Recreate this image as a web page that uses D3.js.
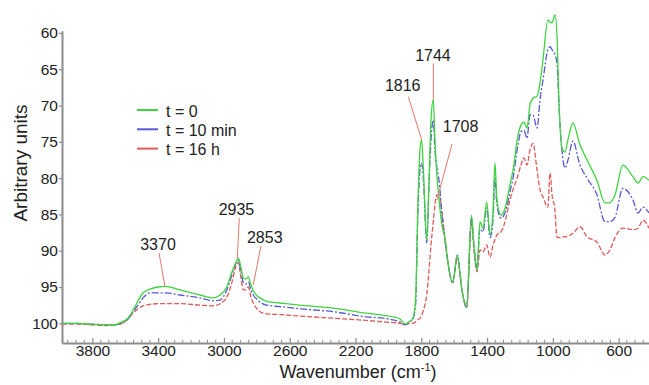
<!DOCTYPE html>
<html>
<head>
<meta charset="utf-8">
<script src="https://cdn.jsdelivr.net/npm/d3@7"></script>
<style>
  body { margin: 0; background: #fff; }
  svg { display: block; font-family: "Liberation Sans", Arial, Helvetica, sans-serif; }
</style>
</head>
<body>
<svg id="chart" width="649" height="385"></svg>
<script>
// wavenumbers (cm-1), high -> low
const wavenumbers = [3985, 3905, 3815, 3723, 3663, 3620, 3584, 3553, 3523, 3492, 3450, 3401, 3359, 3267, 3146, 3067, 3024, 2983, 2951, 2927,
  2913, 2896, 2882, 2866, 2852, 2836, 2822, 2799, 2781, 2738, 2659, 2538, 2337, 2136, 2033, 1930, 1899, 1869, 1851, 1835,
  1820, 1808, 1798, 1787, 1767, 1753, 1741, 1727, 1717, 1705, 1692, 1674, 1656, 1638, 1609, 1581, 1553, 1524, 1495, 1480,
  1461, 1443, 1425, 1402, 1382, 1364, 1352, 1340, 1315, 1285, 1261, 1242, 1212, 1194, 1176, 1157, 1139, 1121, 1096, 1078,
  1060, 1030, 1017, 1005, 987, 975, 963, 945, 926, 908, 878, 835, 792, 732, 683, 653, 622, 574, 513, 482, 452, 415];

const t0 = [100.0, 100.0, 100.1, 100.2, 100.2, 99.8, 99.3, 98.2, 96.9, 95.8, 95.3, 95.0, 94.9, 95.4, 96.1, 96.5, 96.1, 95.0, 92.9, 91.6,
  91.0, 92.4, 93.8, 93.9, 93.6, 94.7, 95.5, 96.2, 96.5, 97.0, 97.2, 97.5, 97.9, 98.6, 98.9, 99.4, 100.1, 99.7, 99.3, 96.8,
  83.0, 76.1, 74.7, 78.9, 88.5, 80.3, 72.0, 69.2, 74.7, 79.6, 83.0, 86.5, 88.2, 91.6, 94.4, 90.6, 95.4, 97.8, 85.1, 89.2,
  92.7, 86.0, 86.9, 83.3, 87.8, 84.7, 77.9, 83.0, 85.1, 83.7, 80.9, 78.9, 74.1, 72.7, 72.3, 73.1, 69.9, 69.0, 68.7, 66.9,
  63.7, 58.2, 58.5, 58.6, 57.5, 60.3, 69.2, 75.8, 76.4, 74.7, 72.4, 75.4, 77.5, 80.3, 83.4, 83.4, 82.3, 78.2, 79.8, 80.7, 79.8, 80.3];

const t10min = [100.0, 100.0, 100.1, 100.2, 100.2, 100.0, 99.4, 98.4, 97.5, 96.5, 95.8, 95.8, 95.8, 96.1, 96.5, 96.9, 96.8, 95.4, 93.3, 91.7,
  91.3, 92.9, 94.4, 94.6, 94.3, 95.4, 96.1, 96.7, 97.1, 97.5, 97.7, 98.0, 98.4, 99.1, 99.3, 99.8, 100.2, 99.8, 99.4, 97.5,
  84.4, 78.9, 77.9, 80.3, 88.9, 80.9, 74.7, 72.0, 76.1, 78.6, 80.3, 85.1, 88.5, 91.6, 94.4, 90.6, 95.4, 97.9, 85.5, 89.2,
  92.4, 86.9, 87.4, 84.1, 88.2, 85.8, 80.0, 83.7, 85.5, 84.4, 81.9, 80.0, 75.4, 73.6, 73.4, 74.5, 71.3, 71.3, 73.1, 69.2,
  66.5, 62.3, 61.9, 62.3, 63.0, 64.1, 69.9, 76.1, 78.6, 77.5, 74.9, 78.2, 80.0, 82.3, 86.0, 86.0, 85.4, 81.4, 83.0, 84.8, 84.0, 84.8];

const t16h = [100.1, 100.1, 100.2, 100.3, 100.2, 100.0, 99.4, 98.6, 98.0, 97.6, 97.4, 97.3, 97.3, 97.3, 97.5, 97.6, 97.3, 96.4, 94.3, 92.1,
  91.6, 93.8, 95.4, 95.4, 95.0, 96.4, 97.2, 98.0, 98.4, 98.7, 98.8, 99.0, 99.3, 99.6, 99.8, 100.0, 100.2, 100.0, 100.0, 99.8,
  99.5, 99.3, 98.9, 98.2, 96.1, 92.7, 89.2, 86.0, 83.7, 82.3, 82.3, 84.7, 88.5, 91.6, 94.4, 91.0, 95.4, 97.6, 86.0, 89.9,
  92.9, 89.9, 90.2, 89.2, 90.9, 89.2, 88.5, 87.8, 87.4, 85.5, 83.0, 81.6, 79.6, 78.2, 77.2, 78.2, 76.1, 75.2, 78.9, 81.6,
  82.6, 84.0, 79.3, 82.3, 84.4, 88.1, 88.2, 88.1, 88.1, 88.0, 87.6, 86.7, 88.1, 88.8, 90.6, 89.9, 88.2, 86.9, 87.1, 86.9, 85.8, 86.9];

const seriesNames = ["t = 0", "t = 10 min", "t = 16 h"];
const seriesValues = [t0, t10min, t16h];

const xTicks = [3800, 3400, 3000, 2600, 2200, 1800, 1400, 1000, 600];
const yTicks = [60, 65, 70, 75, 80, 85, 90, 95, 100];

// peak labels: text, peak position, where the leader starts (data units)
const peakLabels = ["3370", "2935", "2853", "1816", "1744", "1708"];
const peakW = [3359, 2919, 2822, 1798, 1727, 1705];
const peakV = [94.9, 91.0, 94.7, 74.7, 69.2, 83.0];
const leadW = [3395, 2907, 2775, 1879, 1727, 1613];
const leadV = [90.3, 85.5, 89.35, 68.8, 64.2, 75.3];

const colors = ["#3fd43f", "#5a5ad2", "#e05a5a"];
const dashes = [null, "7,2,2,2", "5,2"];

const svg = d3.select("#chart");

const x = d3.scaleLinear().domain([3985, 400]).range([62, 651.5]);
const y = d3.scaleLinear().domain([59.7, 102.7]).range([30.8, 342.9]);

// axes
const axisColor = "#8c8c8c";

const yAxis = svg.append("g")
  .attr("transform", "translate(62,0)")
  .call(d3.axisLeft(y).tickValues(yTicks).tickSize(3).tickSizeOuter(0).tickPadding(1));

const xAxis = svg.append("g")
  .attr("transform", `translate(0,${y.range()[1]})`)
  .call(d3.axisBottom(x).tickValues(xTicks).tickFormat(d3.format("d"))
    .tickSizeInner(-5).tickSizeOuter(0).tickPadding(3));

// minor ticks every 50 cm-1
svg.append("g")
  .selectAll("line")
  .data(d3.range(3950, 399, -50).filter(d => !xTicks.includes(d)))
  .enter().append("line")
  .attr("x1", d => x(d)).attr("x2", d => x(d))
  .attr("y1", y.range()[1]).attr("y2", y.range()[1] - 3)
  .attr("stroke", axisColor).attr("stroke-width", 1);

[xAxis, yAxis].forEach(g => {
  g.select(".domain").attr("stroke", axisColor).attr("stroke-width", 2);
  g.selectAll(".tick line").attr("stroke", axisColor).attr("stroke-width", 1.2);
  g.selectAll(".tick text").attr("fill", "#222").style("font-size", "15.5px")
    .style("font-family", '"Liberation Sans", Arial, sans-serif');
});
xAxis.selectAll(".tick text").attr("dy", "0.65em");

// axis titles
svg.append("text")
  .attr("transform", "translate(27,163) rotate(-90)")
  .attr("text-anchor", "middle")
  .attr("fill", "#222")
  .style("font-size", "19px")
  .text("Arbitrary units");

const xt = svg.append("text")
  .attr("x", 358).attr("y", 378)
  .attr("text-anchor", "middle")
  .attr("fill", "#222")
  .style("font-size", "18px");
xt.append("tspan").text("Wavenumber (cm");
xt.append("tspan").attr("dy", -7).style("font-size", "11px").text("-1");
xt.append("tspan").attr("dy", 7).text(")");

// spectra
const line = d3.line()
  .x(d => x(d[0]))
  .y(d => y(d[1]))
  .curve(d3.curveMonotoneX);

// draw red first so green sits on top
[2, 1, 0].forEach(i => {
  svg.append("path")
    .datum(wavenumbers.map((w, k) => [w, seriesValues[i][k]]))
    .attr("d", line)
    .attr("fill", "none")
    .attr("stroke", colors[i])
    .attr("stroke-width", 1.3)
    .attr("stroke-dasharray", dashes[i]);
});

// peak annotations
const ann = svg.append("g");
peakLabels.forEach((label, i) => {
  ann.append("line")
    .attr("x1", x(leadW[i])).attr("y1", y(leadV[i]))
    .attr("x2", x(peakW[i])).attr("y2", y(peakV[i]))
    .attr("stroke", "#e27a6c").attr("stroke-width", 1);
});

const labelAt = [
  [3401, 89.9], [2924, 85.1], [2752, 88.9], [1913, 68.0], [1729, 63.8], [1561, 73.6]
];
peakLabels.forEach((label, i) => {
  ann.append("text")
    .attr("x", x(labelAt[i][0])).attr("y", y(labelAt[i][1]))
    .attr("text-anchor", "middle")
    .attr("fill", "#222")
    .style("font-size", "16px")
    .text(label);
});

// legend
const legend = svg.append("g").attr("transform", "translate(137,110)");
seriesNames.forEach((name, i) => {
  const row = legend.append("g").attr("transform", `translate(0,${i * 19.3})`);
  row.append("line")
    .attr("x1", 0).attr("x2", 21).attr("y1", 0).attr("y2", 0)
    .attr("stroke", colors[i]).attr("stroke-width", 2);
  row.append("text")
    .attr("x", 29).attr("y", 6.5)
    .attr("fill", "#222")
    .style("font-size", "16px")
    .text(name);
});
</script>
</body>
</html>
